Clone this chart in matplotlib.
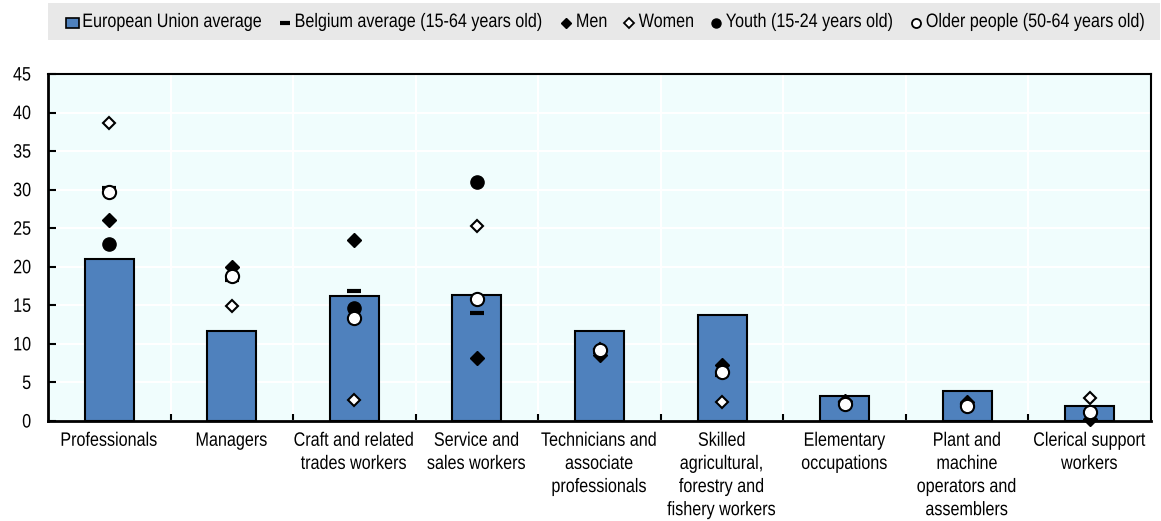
import matplotlib.pyplot as plt
import numpy as np
from matplotlib import patheffects
from matplotlib.transforms import Affine2D, Bbox
from matplotlib.patches import Rectangle
from matplotlib.lines import Line2D
from matplotlib.text import Text

plt.rcParams['font.family'] = ['Liberation Sans', 'DejaVu Sans']

categories = ["Professionals", "Managers", "Craft and related\ntrades workers",
              "Service and\nsales workers", "Technicians and\nassociate\nprofessionals",
              "Skilled\nagricultural,\nforestry and\nfishery workers",
              "Elementary\noccupations", "Plant and\nmachine\noperators and\nassemblers",
              "Clerical support\nworkers"]

eu_avg = [21.0, 11.7, 16.2, 16.4, 11.7, 13.8, 3.2, 3.9, 1.9]
belgium = [30.2, 18.3, 16.9, 14.0, 9.0, 6.0, 2.3, 2.2, 1.2]
men = [26.1, 20.0, 23.5, 8.2, 8.6, 7.2, 2.6, 2.4, 0.2]
women = [38.6, 14.9, 2.7, 25.3, 9.4, 2.5, 2.4, 2.2, 3.0]
youth = [23.0, np.nan, 14.7, 31.0, np.nan, np.nan, np.nan, np.nan, np.nan]
older = [29.7, 18.8, 13.4, 15.8, 9.2, 6.4, 2.2, 2.0, 1.2]

legend_labels = ["European Union average", "Belgium average (15-64 years old)", "Men", "Women",
                 "Youth (15-24 years old)", "Older people (50-64 years old)"]

SQ = 0.83  # the reference font is a narrow Arial


class Squeeze(patheffects.AbstractPathEffect):
    """draw text narrower, keeping one side (or the centre) in place"""
    def __init__(self, sx=SQ, anchor='center'):
        super().__init__()
        self.sx = sx
        self.anchor = anchor

    def draw_path(self, renderer, gc, tpath, affine, rgbFace=None):
        bb = tpath.get_extents(affine)
        cx = {'center': (bb.x0 + bb.x1) / 2, 'left': bb.x0, 'right': bb.x1}[self.anchor]
        affine = affine + Affine2D().translate(-cx, 0).scale(self.sx, 1).translate(cx, 0)
        renderer.draw_path(gc, tpath, affine, rgbFace)


class NarrowText(Text):
    """left aligned text whose reported extent matches the squeezed drawing"""
    def get_window_extent(self, renderer=None, dpi=None):
        bb = super().get_window_extent(renderer, dpi)
        return Bbox.from_extents(bb.x0, bb.y0, bb.x0 + bb.width * SQ, bb.y1)


W, H = 1161, 521
fig = plt.figure(figsize=(W / 100, H / 100), dpi=100)
ax = fig.add_axes([48 / W, 1 - 421 / H, 1103 / W, 347 / H])
ax.set_facecolor('#F0FDFD')

x = np.arange(len(categories))
ax.bar(x, eu_avg, width=0.4, color='#4F81BD', edgecolor='black', linewidth=1.5, zorder=2)

ms = dict(linestyle='none', clip_on=False)
ax.plot(x, belgium, marker='_', color='black', markersize=10, markeredgewidth=3, zorder=3, **ms)
ax.plot(x, men, marker='D', color='black', markersize=7, zorder=4, **ms)
ax.plot(x, women, marker='D', markerfacecolor='white', markeredgecolor='black',
        markersize=6.5, markeredgewidth=1.5, zorder=5, **ms)
ax.plot(x, youth, marker='o', color='black', markersize=9.5, zorder=6, **ms)
ax.plot(x, older, marker='o', markerfacecolor='white', markeredgecolor='black',
        markersize=9.5, markeredgewidth=1.5, zorder=7, **ms)

ax.set_xlim(-0.5, len(categories) - 0.5)
ax.set_ylim(0, 45)
ax.set_yticks(np.arange(0, 46, 5))
ax.set_xticks(x)
ax.set_xticklabels(categories, fontsize=14, linespacing=1.47)
ax.set_xticks(np.arange(0.5, len(categories) - 1, 1), minor=True)
ax.tick_params(axis='x', which='major', length=0, pad=8.5)
ax.tick_params(axis='x', which='minor', direction='in', length=5, width=1.5)
ax.tick_params(axis='y', direction='in', length=6, width=1.5, labelsize=14, pad=12)
ax.grid(axis='y', color='white', linewidth=1.5, zorder=0)
ax.grid(axis='x', which='minor', color='white', linewidth=1.5, zorder=0)
ax.set_axisbelow(True)
for s in ax.spines.values():
    s.set_linewidth(1.5)
ax.spines['bottom'].set_linewidth(2)
ax.spines['left'].set_linewidth(2)

for t in ax.get_xticklabels():
    t.set_path_effects([Squeeze(anchor='center')])
for t in ax.get_yticklabels():
    t.set_path_effects([Squeeze(anchor='right')])

# legend, laid out by hand in pixels so the narrow text packs tightly
fx = lambda px: px / W
fy = lambda py: 1 - py / H
fig.add_artist(Rectangle((fx(48), fy(40)), fx(1160) - fx(48), fy(3) - fy(40),
                         transform=fig.transFigure, facecolor='#E8E8E8', edgecolor='none'))
yc = 22.5
handles = [
    dict(kind='patch'),
    dict(marker='_', color='black', markersize=7, markeredgewidth=3),
    dict(marker='D', color='black', markersize=5),
    dict(marker='D', markerfacecolor='white', markeredgecolor='black', markersize=5, markeredgewidth=1.3),
    dict(marker='o', color='black', markersize=6.5),
    dict(marker='o', markerfacecolor='white', markeredgecolor='black', markersize=6.5, markeredgewidth=1.3),
]
renderer = fig.canvas.get_renderer()
cur = 66
for h, lab in zip(handles, legend_labels):
    if h.get('kind') == 'patch':
        fig.add_artist(Rectangle((fx(cur), fy(yc + 5)), fx(13), fy(0) - fy(10),
                                 transform=fig.transFigure, facecolor='#4F81BD',
                                 edgecolor='black', linewidth=1.2))
    else:
        fig.add_artist(Line2D([fx(cur + 6.5)], [fy(yc)], transform=fig.transFigure,
                              linestyle='none', **h))
    t = NarrowText(fx(cur + 16), fy(yc), lab, fontsize=14, va='center', ha='left',
                   transform=fig.transFigure)
    t.set_path_effects([Squeeze(anchor='left')])
    fig.add_artist(t)
    wpx = t.get_window_extent(renderer).width
    cur = cur + 16 + wpx + 15.5

fig.savefig('out.png', dpi=100)
